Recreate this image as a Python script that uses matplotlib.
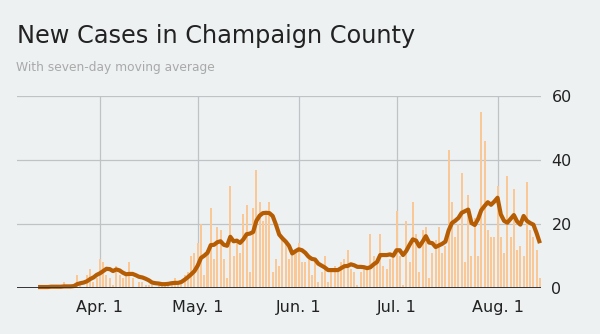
import matplotlib
matplotlib.use("Agg")
import matplotlib.pyplot as plt
import matplotlib.dates as mdates
import pandas as pd
import numpy as np

# Daily new cases, Champaign County, Mar 13 - Aug 14
start_date = "2020-03-13"
end_date = "2020-08-14"

daily_cases = [
    # Mar 13 - Mar 31
    0, 1, 1, 0, 1, 1, 1, 0, 2, 0, 1, 1, 4, 1, 0, 4, 6, 2, 3,
    # Apr 1 - Apr 30
    9, 8, 4, 3, 1, 7, 4, 3, 4, 8, 3, 0, 2, 2, 1, 1, 1, 0, 1, 1,
    1, 1, 1, 3, 1, 2, 4, 5, 10, 11,
    # May 1 - May 31
    14, 20, 4, 12, 25, 9, 19, 18, 9, 3, 32, 10, 14, 11, 23, 26, 5, 25, 37, 27,
    21, 23, 27, 5, 9, 7, 15, 14, 9, 12, 11,
    # Jun 1 - Jun 30
    14, 8, 8, 9, 4, 8, 2, 5, 10, 2, 5, 7, 5, 8, 9, 12, 6, 5, 1, 5,
    6, 6, 17, 10, 8, 17, 7, 6, 9, 10,
    # Jul 1 - Jul 31
    24, 10, 1, 21, 8, 27, 17, 5, 18, 19, 3, 11, 15, 19, 11, 13, 43, 27, 16, 20,
    36, 8, 29, 10, 22, 10, 55, 46, 18, 16, 16,
    # Aug 1 - Aug 14
    32, 16, 11, 35, 16, 31, 12, 13, 10, 33, 18, 16, 12, 3,
]

moving_average = [
    # Mar 13 - Mar 31
    0.3, 0.3, 0.3, 0.3, 0.4, 0.4, 0.4, 0.4, 0.5, 0.5, 0.5, 0.6, 1.2, 1.5, 1.7,
    2.1, 2.8, 3.3, 4.1,
    # Apr 1 - Apr 30
    4.6, 5.3, 6.0, 5.9, 5.3, 5.8, 5.5, 4.8, 4.3, 4.4, 4.4, 4.0, 3.5, 3.3, 2.9,
    2.4, 1.7, 1.5, 1.4, 1.2, 1.2, 1.3, 1.5, 1.6, 1.6, 1.9, 2.6, 3.4, 4.3, 5.3,
    # May 1 - May 31
    7.0, 9.4, 10.1, 11.0, 13.4, 13.5, 14.3, 14.6, 13.5, 13.2, 16.0, 14.6, 14.8,
    14.1, 15.2, 16.8, 17.0, 17.5, 21.0, 22.6, 23.4, 23.5, 23.4, 22.5, 19.8,
    16.7, 15.5, 14.5, 13.2, 10.8, 11.5,
    # Jun 1 - Jun 30
    12.1, 11.8, 11.0, 9.8, 9.1, 8.9, 7.6, 7.0, 6.4, 5.6, 5.6, 5.6, 5.6, 6.2,
    6.8, 6.9, 7.4, 7.1, 6.6, 6.6, 6.5, 6.2, 6.5, 7.4, 8.1, 10.3, 10.3, 10.3,
    10.5, 10.1,
    # Jul 1 - Jul 31
    11.8, 11.8, 10.3, 11.6, 13.5, 15.2, 14.8, 13.0, 14.5, 16.2, 14.2, 14.0,
    12.8, 13.3, 13.8, 14.5, 18.0, 20.3, 21.0, 21.9, 23.5, 24.0, 24.5, 20.3,
    19.7, 21.5, 24.3, 25.6, 26.8, 26.0, 27.0,
    # Aug 1 - Aug 14
    28.2, 23.0, 21.0, 20.4, 21.6, 22.8, 20.8, 19.8, 22.5, 21.0, 20.3, 19.8,
    17.1, 14.0,
]

y_ticks = [0, 20, 40, 60]
month_ticks = ["2020-04-01", "2020-05-01", "2020-06-01", "2020-07-01", "2020-08-01"]
month_labels = ["Apr. 1", "May. 1", "Jun. 1", "Jul. 1", "Aug. 1"]

title = "New Cases in Champaign County"
subtitle = "With seven-day moving average"

BG = "#edf1f2"
BAR = "#f9c896"
LINE = "#b65d04"
GRID = "#bfc3c5"
TEXT = "#222222"

dates = pd.date_range(start_date, end_date, freq="D")
x = mdates.date2num(dates)

fig = plt.figure(figsize=(6.0, 3.34), dpi=100, facecolor=BG)
ax = fig.add_axes([17 / 600, 46 / 334, 524 / 600, 192 / 334])
ax.set_facecolor(BG)

ax.bar(x, daily_cases, width=0.62, color=BAR, zorder=2, linewidth=0)
ax.plot(x, moving_average, color=LINE, lw=3.0, solid_joinstyle="round",
        solid_capstyle="butt", zorder=3, clip_on=False)

ax.set_ylim(0, 60)
ax.set_xlim(mdates.date2num(pd.Timestamp("2020-03-06 13:00")),
            mdates.date2num(pd.Timestamp("2020-08-14 08:00")))

# grid
for yv in y_ticks[1:]:
    ax.axhline(yv, color=GRID, lw=0.9, zorder=1)
tick_x = mdates.date2num(pd.to_datetime(month_ticks))
for xv in tick_x:
    ax.axvline(xv, color=GRID, lw=0.9, zorder=1)
ax.axhline(0, color="#333333", lw=1.4, zorder=4)

for s in ax.spines.values():
    s.set_visible(False)

ax.set_xticks(tick_x)
ax.set_xticklabels(month_labels)
ax.set_yticks(y_ticks)
ax.yaxis.tick_right()
ax.tick_params(axis="both", length=0, labelsize=11.5, labelcolor=TEXT)
ax.tick_params(axis="y", pad=7.5)
ax.tick_params(axis="x", pad=8.5)

fig.text(17 / 600, 1 - 42.5 / 334, title, fontsize=17.3, color=TEXT,
         ha="left", va="baseline")
fig.text(16 / 600, 1 - 71 / 334, subtitle, fontsize=8.8, color="#a9a9a9",
         ha="left", va="baseline")

fig.savefig("out.png", dpi=100, facecolor=BG)
